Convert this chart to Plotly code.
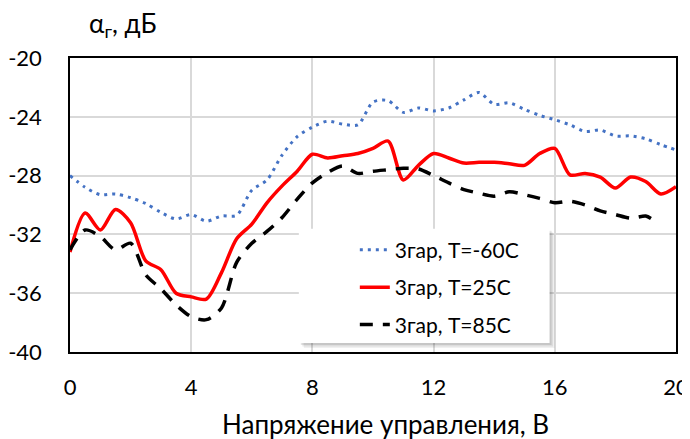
import plotly.graph_objects as go

# Data
x_m60 = [0, 0.5, 1, 1.5, 2, 2.5, 3, 3.5, 4, 4.5, 5, 5.5, 6, 6.5, 7, 7.5, 8, 8.5, 9, 9.5,
         10, 10.5, 11, 11.5, 12, 12.5, 13, 13.5, 14, 14.5, 15, 15.5, 16, 16.5, 17, 17.5,
         18, 18.5, 19, 19.5, 20]
y_m60 = [-28.0, -28.8, -29.3, -29.25, -29.5, -29.9, -30.5, -30.95, -30.65, -31.1, -30.75,
         -30.7, -29.0, -28.3, -26.6, -25.35, -24.7, -24.3, -24.5, -24.55, -23.0, -22.9,
         -23.7, -23.4, -23.6, -23.4, -22.85, -22.35, -23.15, -23.05, -23.5, -23.9, -24.2,
         -24.55, -25.0, -24.9, -25.3, -25.3, -25.5, -25.9, -26.25]

x_25 = [0, 0.5, 1, 1.5, 2, 2.5, 3, 3.5, 4, 4.5, 5, 5.5, 6, 6.5, 7, 7.5, 8, 8.5, 9, 9.5,
        10, 10.5, 11, 11.5, 12, 12.5, 13, 13.5, 14, 14.5, 15, 15.5, 16, 16.5, 17, 17.5,
        18, 18.5, 19, 19.5, 20]
y_25 = [-33.2, -30.55, -31.7, -30.3, -31.2, -33.8, -34.4, -36.0, -36.25, -36.4, -34.6,
        -32.3, -31.3, -29.85, -28.7, -27.7, -26.55, -26.8, -26.65, -26.5, -26.15, -25.65,
        -28.3, -27.3, -26.5, -26.8, -27.15, -27.1, -27.1, -27.2, -27.3, -26.5, -26.15,
        -27.95, -27.85, -28.1, -28.85, -28.1, -28.4, -29.25, -28.75]

x_85 = [0, 0.5, 1, 1.5, 2, 2.5, 3, 3.5, 4, 4.5, 5, 5.5, 6, 6.5, 7, 7.5, 8, 8.5, 9, 9.5,
        10, 10.5, 11, 11.5, 12, 12.5, 13, 13.5, 14, 14.5, 15, 15.5, 16, 16.5, 17, 17.5,
        18, 18.5, 19, 19.2]
y_85 = [-33.05, -31.7, -32.15, -33.05, -32.6, -34.75, -35.7, -36.8, -37.6, -37.8, -37.0,
        -33.9, -32.6, -31.8, -30.85, -29.6, -28.5, -27.8, -27.35, -27.85, -27.7, -27.6,
        -27.5, -27.55, -28.0, -28.5, -28.95, -29.2, -29.4, -29.1, -29.3, -29.55, -29.85,
        -29.75, -30.0, -30.4, -30.65, -30.9, -30.75, -30.95]

names = ["3гар, T=-60С", "3гар, T=25С", "3гар, T=85С"]
x_ticks = [0, 4, 8, 12, 16, 20]
y_ticks = [-40, -36, -32, -28, -24, -20]
y_ticktext = ["-40", "-36", "-32", "-28", "-24", "-20"]
x_title = "Напряжение управления, В"
y_title = "α<sub>г</sub>, дБ"

FONT = "Lato"

fig = go.Figure()
fig.add_trace(go.Scatter(x=x_m60, y=y_m60, mode="lines", name=names[0], legendgroup="a",
                         line=dict(color="#4472C4", width=3, dash="3px,5px",
                                   shape="spline", smoothing=0.8)))
fig.add_trace(go.Scatter(x=x_25, y=y_25, mode="lines", name=names[1], legendgroup="b",
                         line=dict(color="#FF0000", width=3.5,
                                   shape="spline", smoothing=0.8)))
fig.add_trace(go.Scatter(x=x_85, y=y_85, mode="lines", name=names[2], legendgroup="c",
                         line=dict(color="#000000", width=3.5, dash="13px,10px",
                                   shape="spline", smoothing=0.8)))

axis_common = dict(showline=True, mirror=True, linecolor="#000000", linewidth=1.5,
                   showgrid=True, gridcolor="#d9d9d9", gridwidth=1.5,
                   ticks="", zeroline=False, automargin=False,
                   tickfont=dict(family=FONT, size=22, color="#000000"))

# legend panel (white box with a soft shadow), drawn above the curves
legend_box = dict(x0=0.3776, x1=0.7914, y0=0.0306, y1=0.4188)
shapes = []
for off, col in [(5, "rgba(0,0,0,0.06)"), (3.5, "rgba(0,0,0,0.08)"), (2, "rgba(0,0,0,0.10)")]:
    dx = off / 606.5
    dy = off / 293.7
    shapes.append(dict(type="rect", xref="paper", yref="paper", layer="above",
                       x0=legend_box["x0"] + dx, x1=legend_box["x1"] + dx,
                       y0=legend_box["y0"] - dy, y1=legend_box["y1"] - dy,
                       line=dict(width=0), fillcolor=col))
shapes.append(dict(type="rect", xref="paper", yref="paper", layer="above",
                   line=dict(width=0), fillcolor="white", **legend_box))

# the page body adds an 8px offset, margins compensate for it
fig.update_layout(
    width=690, height=439,
    margin=dict(l=62, r=22, t=50, b=95),
    paper_bgcolor="white", plot_bgcolor="white",
    font=dict(family=FONT, color="#000000"),
    xaxis=dict(range=[0, 20], tickvals=x_ticks, ticklabelstandoff=15, **axis_common),
    yaxis=dict(range=[-40, -20], tickvals=y_ticks, ticktext=y_ticktext,
               ticklabelstandoff=22, **axis_common),
    legend=dict(x=0.47, y=0.416, xanchor="left", yanchor="top",
                bgcolor="rgba(0,0,0,0)", borderwidth=0,
                font=dict(family=FONT, size=21, color="#000000"),
                traceorder="grouped", tracegroupgap=7),
    showlegend=True,
    shapes=shapes,
    annotations=[
        dict(text=y_title, xref="paper", yref="paper",
             x=0.087, y=1.113, xanchor="center", yanchor="middle",
             showarrow=False, font=dict(family=FONT, size=26, color="#000000")),
        dict(text=x_title, xref="paper", yref="paper",
             x=0.521, y=-0.245, xanchor="center", yanchor="middle",
             showarrow=False, font=dict(family=FONT, size=26, color="#000000")),
    ],
)

fig.write_html("out.html")
